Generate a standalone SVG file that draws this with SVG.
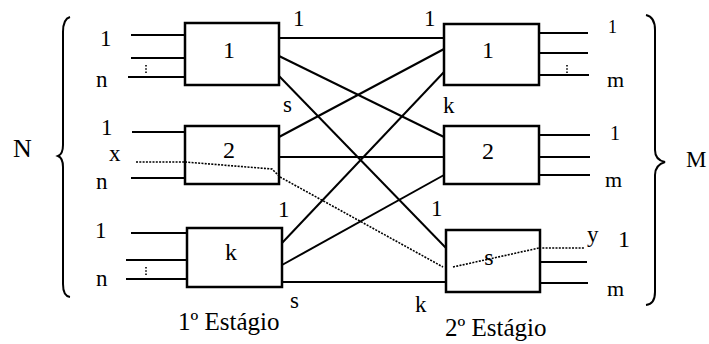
<svg xmlns="http://www.w3.org/2000/svg" width="709" height="344" viewBox="0 0 709 344" font-family="Liberation Serif">
  <style>
    text { font-family: "Liberation Serif", "Times New Roman", serif; fill: #000; }
    .box rect { fill: #fff; stroke: #000; stroke-width: 2.5; }
    .box text { text-anchor: middle; }
    .wire { stroke: #000; stroke-width: 2.2; fill: none; }
    .link { stroke: #000; stroke-width: 2; fill: none; }
    .path-xy { stroke: #000; stroke-width: 1.6; fill: none; stroke-dasharray: 2 1.3; }
    .vdots { stroke: #000; stroke-width: 1.6; fill: none; stroke-dasharray: 1.6 1.6; }
    .brace { stroke: #000; stroke-width: 2; fill: none; }
  </style>
  <rect width="709" height="344" fill="#fff"/>

  <!-- braces and set labels -->
  <g id="inputs-brace">
    <path class="brace" d="M70,17 Q63,19 63,32 L63,145 Q63,154 58,156 Q63,158 63,167 L63,284 Q63,296 70,297"/>
    <text x="13" y="157" font-family="Liberation Serif" font-size="26">N</text>
  </g>
  <g id="outputs-brace">
    <path class="brace" d="M646,15 Q655,17 655,30 L655,150 Q655,160 665,162 Q655,165 655,175 L655,292 Q655,304 646,305"/>
    <text x="686" y="167" font-family="Liberation Serif" font-size="23">M</text>
  </g>

  <!-- connectors between the two stages -->
  <g id="connectors">
    <path class="link" d="M279,38 L444,38"/>
    <path class="link" d="M279,56 L444,137"/>
    <path class="link" d="M279,76 L446,248"/>
    <path class="link" d="M279,137 L444,49"/>
    <path class="link" d="M279,157 L444,157"/>
    <path class="link" d="M282,243 L444,72"/>
    <path class="link" d="M282,265 L444,175"/>
    <path class="link" d="M282,282 L446,282"/>
    <!-- routed connection from input x to output y -->
    <path class="path-xy" d="M136,162 L185,162"/>
    <path class="path-xy" d="M280,177 L443,267"/>
    <path class="path-xy" d="M539,248 L585,248"/>
  </g>

  <!-- first stage -->
  <g id="stage1-box1" class="box">
    <path class="wire" d="M131,35 H185 M131,58 H185 M128,77 H185"/>
    <path class="vdots" d="M146,65 V74"/>
    <rect x="185" y="23" width="94" height="62"/>
    <text x="229" y="58" font-family="Liberation Serif" font-size="24">1</text>
  </g>
  <g id="stage1-box2" class="box">
    <path class="wire" d="M132,132 H185 M131,178 H185"/>
    <rect x="185" y="126" width="94" height="58"/>
    <path class="path-xy" d="M185,162 L272,169 L280,177"/>
    <text x="229" y="158" font-family="Liberation Serif" font-size="24">2</text>
  </g>
  <g id="stage1-boxk" class="box">
    <path class="wire" d="M131,233 H187 M126,260 H187 M126,279 H187"/>
    <path class="vdots" d="M146,267 V276"/>
    <rect x="187" y="228" width="95" height="59"/>
    <text x="231" y="260" font-family="Liberation Serif" font-size="24">k</text>
  </g>

  <!-- second stage -->
  <g id="stage2-box1" class="box">
    <path class="wire" d="M539,33 H588 M539,53 H588 M539,75 H589"/>
    <path class="vdots" d="M567,65 V74"/>
    <rect x="444" y="24" width="95" height="61"/>
    <text x="488" y="58" font-family="Liberation Serif" font-size="24">1</text>
  </g>
  <g id="stage2-box2" class="box">
    <path class="wire" d="M539,135 H590 M539,157 H590 M539,175 H590"/>
    <rect x="444" y="126" width="95" height="58"/>
    <text x="488" y="159" font-family="Liberation Serif" font-size="24">2</text>
  </g>
  <g id="stage2-boxs" class="box">
    <path class="wire" d="M540,262 H587 M540,283 H588"/>
    <rect x="446" y="230" width="94" height="62"/>
    <path class="path-xy" d="M453,267 L539,248"/>
    <text x="489" y="265" font-family="Liberation Serif" font-size="24">s</text>
  </g>

  <!-- port labels -->
  <g id="labels" font-family="Liberation Serif" font-size="23">
    <text x="100" y="46">1</text>
    <text x="96" y="87">n</text>
    <text x="101" y="135">1</text>
    <text x="109" y="161">x</text>
    <text x="96" y="189">n</text>
    <text x="95" y="238">1</text>
    <text x="96" y="286">n</text>

    <text x="608" y="33" font-size="18">1</text>
    <text x="607" y="87" font-size="22">m</text>
    <text x="610" y="140" font-size="20">1</text>
    <text x="605" y="187" font-size="22">m</text>
    <text x="587" y="242">y</text>
    <text x="618" y="247" font-size="24">1</text>
    <text x="607" y="296" font-size="22">m</text>

    <text x="293" y="26">1</text>
    <text x="424" y="26">1</text>
    <text x="283" y="112">s</text>
    <text x="443" y="113">k</text>
    <text x="278" y="217">1</text>
    <text x="431" y="216">1</text>
    <text x="290" y="308">s</text>
    <text x="415" y="312">k</text>
  </g>

  <g id="stage-titles" font-family="Liberation Serif" font-size="25">
    <text x="178" y="330">1º Estágio</text>
    <text x="445" y="336">2º Estágio</text>
  </g>
</svg>
